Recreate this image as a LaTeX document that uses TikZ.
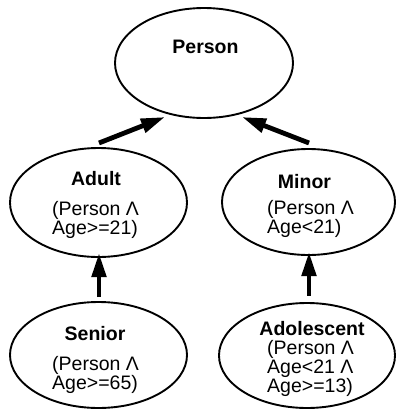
\documentclass[tikz,border=0pt]{standalone}
\usepackage{fontspec}
\setmainfont{Liberation Sans}
\usetikzlibrary{calc,shapes.geometric,arrows.meta}
\begin{document}
\begin{tikzpicture}[x=1pt,y=-1pt,
  concept/.style={draw, ellipse, line width=1.9pt, inner sep=0pt},
  title/.style={anchor=base, inner sep=0pt, font=\fontsize{19.5}{18}\selectfont\bfseries},
  body/.style={anchor=base west, inner sep=0pt, font=\fontsize{19.5}{18}\selectfont},
  isa/.style={line width=4.8pt, -{Triangle[length=24pt,width=14pt]}}]
\useasboundingbox (0,0) rectangle (396,410);

% concept ellipses
\node[concept, minimum width=178pt, minimum height=110pt] (person) at (204,63) {};
\node[concept, minimum width=177pt, minimum height=109pt] (adult) at (98.5,202.5) {};
\node[concept, minimum width=173pt, minimum height=106pt] (minor) at (308.5,202) {};
\node[concept, minimum width=177pt, minimum height=106pt] (senior) at (98.5,355) {};
\node[concept, minimum width=176pt, minimum height=105pt] (adol) at (307,355.5) {};

% concept names
\node[title] (person-t) at (205.5,53) {Person};
\node[title] (adult-t) at (96,185) {Adult};
\node[title] (minor-t) at (304.5,188) {Minor};
\node[title] (senior-t) at (95,340) {Senior};
\node[title] (adol-t) at (312,335) {Adolescent};

% defining conditions
\node[body] (adult-d) at (52,215) {\begin{tabular}[t]{@{}l@{}}(Person Λ\\Age>=21)\end{tabular}};
\node[body] (minor-d) at (267,214) {\begin{tabular}[t]{@{}l@{}}(Person Λ\\Age<21)\end{tabular}};
\node[body] (senior-d) at (52,370) {\begin{tabular}[t]{@{}l@{}}(Person Λ\\Age>=65)\end{tabular}};
\node[body] (adol-d) at (267,354) {\begin{tabular}[t]{@{}l@{}}(Person Λ\\Age<21 Λ\\Age>=13)\end{tabular}};

% is-a links
\draw[isa] ($(adult.center)+(0.5,-59.5)$) -- ($(person.center)+(-39,54)$);
\draw[isa] ($(minor.center)+(0.5,-59)$) -- ($(person.center)+(38,54)$);
\draw[isa] ($(senior.center)+(0.5,-58)$) -- ($(adult.center)+(0.5,50.5)$);
\draw[isa] ($(adol.center)+(2,-60)$) -- ($(minor.center)+(0.5,50)$);
\end{tikzpicture}
\end{document}
